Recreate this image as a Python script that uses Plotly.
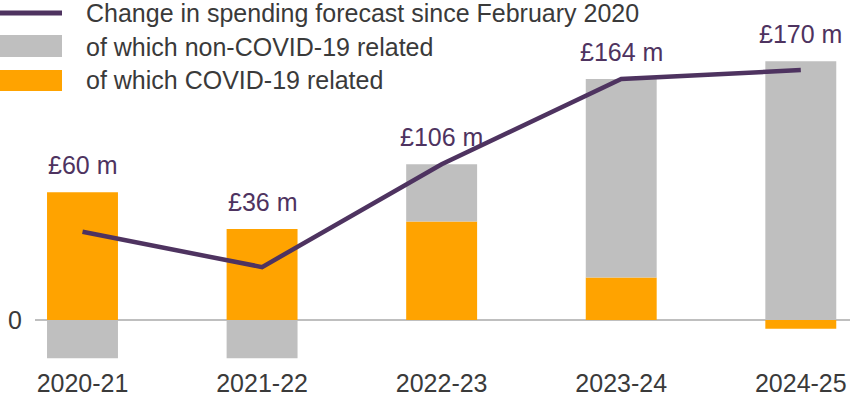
import plotly.graph_objects as go

years = ["2020-21", "2021-22", "2022-23", "2023-24", "2024-25"]
covid = [87, 62, 67, 29, -6]
non_covid = [-26, -26, 39, 135, 176]
total_change = [60, 36, 106, 164, 170]
labels = ["£60 m", "£36 m", "£106 m", "£164 m", "£170 m"]

legend_names = ["Change in spending forecast since February 2020",
                "of which non-COVID-19 related",
                "of which COVID-19 related"]

ORANGE = "#FFA300"
GREY = "#BFBFBF"
PURPLE = "#4E3360"
TEXT = "#3A3A3A"
FONT = "Liberation Sans, Arial, sans-serif"
FS = 25

W, H = 850, 397
ML, MR, MT, MB = 35, 0, 0, 32
PW, PH = W - ML - MR, H - MT - MB

def px(x):
    return (x - ML) / PW

def py(y):
    return (H - MB - y) / PH

fig = go.Figure()
fig.add_trace(go.Bar(x=list(range(len(years))), y=covid, marker_color=ORANGE,
                     marker_line_width=0, width=0.395, name=legend_names[2]))
fig.add_trace(go.Bar(x=list(range(len(years))), y=non_covid, marker_color=GREY,
                     marker_line_width=0, width=0.395, name=legend_names[1]))
fig.add_trace(go.Scatter(x=list(range(len(years))), y=total_change, mode="lines",
                         line=dict(color=PURPLE, width=4.5), name=legend_names[0]))

annotations = []
for i, (c, n, lab) in enumerate(zip(covid, non_covid, labels)):
    top = max(c, 0) + max(n, 0)
    annotations.append(dict(x=i, y=top, xref="x", yref="y", text=lab, showarrow=False,
                            yanchor="bottom", yshift=11,
                            font=dict(family=FONT, size=FS, color=PURPLE)))

# custom legend
shapes = [
    dict(type="line", xref="paper", yref="paper", x0=px(0), x1=px(62), y0=py(13), y1=py(13),
         line=dict(color=PURPLE, width=5)),
    dict(type="rect", xref="paper", yref="paper", x0=px(0), x1=px(62), y0=py(57), y1=py(35),
         fillcolor=GREY, line_width=0),
    dict(type="rect", xref="paper", yref="paper", x0=px(0), x1=px(62), y0=py(91), y1=py(70),
         fillcolor=ORANGE, line_width=0),
]
for name, yc in zip(legend_names, [13, 47, 80]):
    annotations.append(dict(x=px(84), y=py(yc), xref="paper", yref="paper", text=name,
                            showarrow=False, xanchor="left", yanchor="middle",
                            font=dict(family=FONT, size=FS, color=TEXT)))

fig.update_layout(
    width=W, height=H,
    margin=dict(l=ML, r=MR, t=MT, b=MB, autoexpand=False),
    paper_bgcolor="white", plot_bgcolor="white",
    barmode="relative", showlegend=False,
    font=dict(family=FONT, size=FS, color=TEXT),
    annotations=annotations, shapes=shapes,
    xaxis=dict(range=[-0.2645, 4.274], tickmode="array", tickvals=list(range(len(years))),
               ticktext=years, showgrid=False, zeroline=False, showline=False, ticks="",
               ticklabelstandoff=1, automargin=False,
               tickfont=dict(family=FONT, size=FS, color=TEXT)),
    yaxis=dict(range=[-30.6, 217.7], tickmode="array", tickvals=[0], ticktext=["0"],
               showgrid=False, zeroline=True, zerolinecolor=GREY, zerolinewidth=2,
               showline=False, ticks="", ticklabelstandoff=12, automargin=False,
               tickfont=dict(family=FONT, size=FS, color=TEXT)),
)

fig.write_html("out.html", config={"displayModeBar": False},
               post_script="document.body.style.margin='0';document.body.style.overflow='hidden';")
